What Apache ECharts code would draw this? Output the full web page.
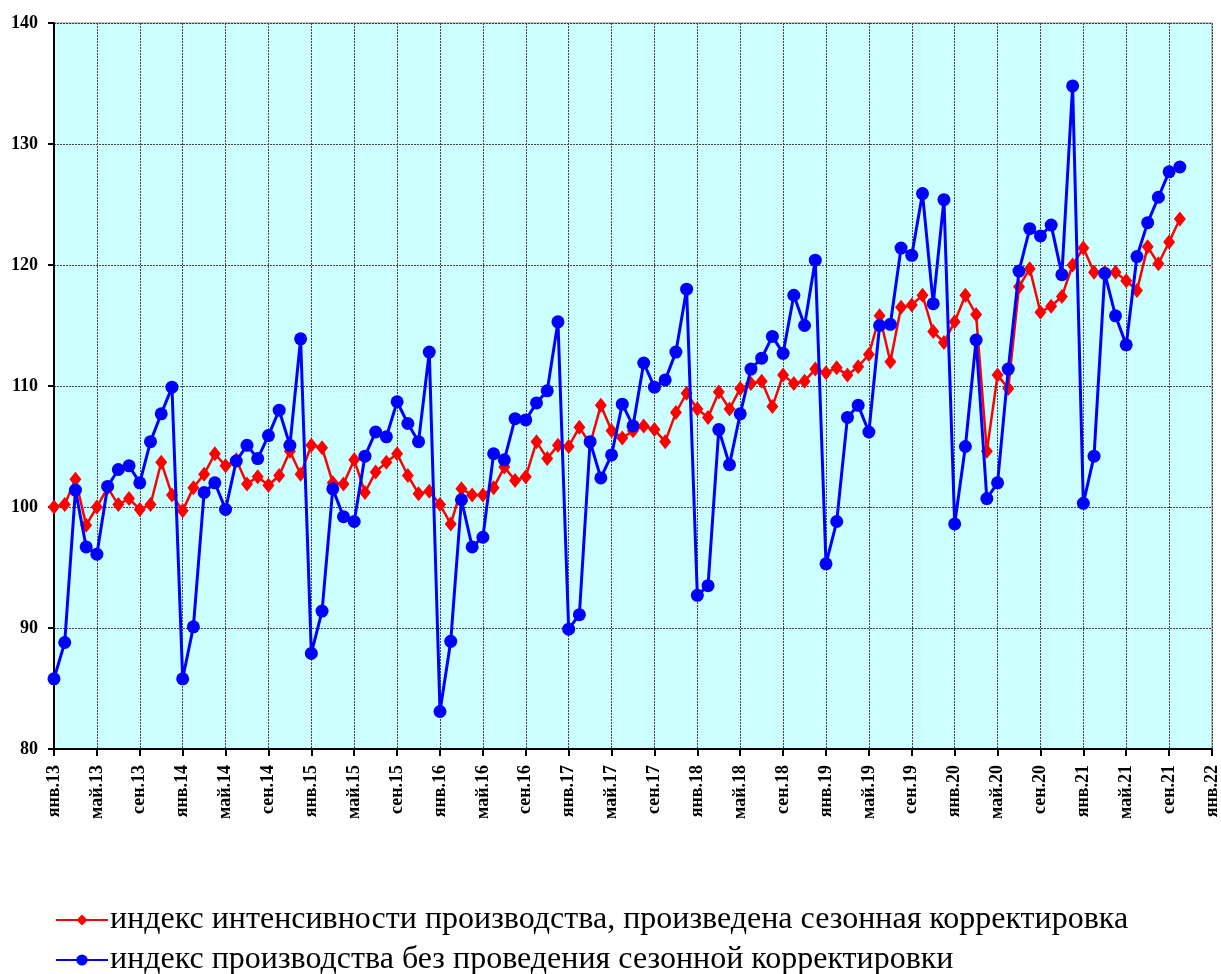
<!DOCTYPE html>
<html>
<head>
<meta charset="utf-8">
<script src="https://cdn.jsdelivr.net/npm/echarts@6/dist/echarts.min.js"></script>
<style>
  html, body { margin: 0; padding: 0; background: #fff; }
  #chart { width: 1221px; height: 974px; }
</style>
</head>
<body>
<div id="chart"></div>
<script>
// month names and years for the x axis (янв.13 ... янв.22)
const monthNames = ['янв', 'фев', 'мар', 'апр', 'май', 'июн', 'июл', 'авг', 'сен', 'окт', 'ноя', 'дек']
const years = ['13', '14', '15', '16', '17', '18', '19', '20', '21', '22']

// seasonally adjusted index (red)
const adjusted = [
  100.0, 100.2, 102.3, 98.5, 100.0, 101.6, 100.2, 100.7, 99.8, 100.2, 103.7, 101.0,
  99.7, 101.6, 102.7, 104.4, 103.4, 103.9, 101.9, 102.5, 101.8, 102.6, 104.6, 102.7,
  105.1, 104.9, 102.0, 101.9, 103.9, 101.2, 102.9, 103.7, 104.4, 102.6, 101.1, 101.3,
  100.2, 98.6, 101.5, 101.0, 101.0, 101.6, 103.3, 102.2, 102.5, 105.4, 104.0, 105.1,
  105.0, 106.6, 105.2, 108.4, 106.3, 105.7, 106.3, 106.7, 106.4, 105.4, 107.8, 109.4,
  108.1, 107.4, 109.5, 108.1, 109.8, 110.2, 110.4, 108.3, 110.9, 110.2, 110.4, 111.4,
  111.1, 111.5, 110.9, 111.6, 112.6, 115.8, 112.0, 116.5, 116.7, 117.5, 114.5, 113.6,
  115.3, 117.5, 115.9, 104.6, 110.9, 109.8, 118.2, 119.7, 116.1, 116.6, 117.4, 120.0,
  121.4, 119.4, 119.4, 119.4, 118.7, 117.9, 121.5, 120.1, 121.9, 123.8
]

// index without seasonal adjustment (blue)
const raw = [
  85.8, 88.8, 101.4, 96.7, 96.1, 101.7, 103.1, 103.4, 102.0, 105.4, 107.7, 109.9,
  85.8, 90.1, 101.2, 102.0, 99.8, 103.8, 105.1, 104.0, 105.9, 108.0, 105.1, 113.9,
  87.9, 91.4, 101.5, 99.2, 98.8, 104.2, 106.2, 105.8, 108.7, 106.9, 105.4, 112.8,
  83.1, 88.9, 100.6, 96.7, 97.5, 104.4, 103.9, 107.3, 107.2, 108.6, 109.6, 115.3,
  89.9, 91.1, 105.4, 102.4, 104.3, 108.5, 106.7, 111.9, 109.9, 110.5, 112.8, 118.0,
  92.7, 93.5, 106.4, 103.5, 107.7, 111.4, 112.3, 114.1, 112.7, 117.5, 115.0, 120.4,
  95.3, 98.8, 107.4, 108.4, 106.2, 115.0, 115.1, 121.4, 120.8, 125.9, 116.8, 125.4,
  98.6, 105.0, 113.8, 100.7, 102.0, 111.4, 119.5, 123.0, 122.4, 123.3, 119.2, 134.8,
  100.3, 104.2, 119.3, 115.8, 113.4, 120.7, 123.5, 125.6, 127.7, 128.1
]

const seriesNames = [
  'индекс интенсивности производства, произведена сезонная корректировка',
  'индекс производства без проведения сезонной корректировки'
]

const categories = []
years.forEach((y, i) => {
  const n = i === years.length - 1 ? 1 : 12
  for (let m = 0; m < n; m++) categories.push(monthNames[m] + '.' + y)
})

const font = '"Liberation Serif", "Times New Roman", serif'
const gridLine = { show: true, lineStyle: { color: '#444', width: 1, type: [2, 1] } }

// one legend block per row, as in the original
const legendRow = (name, top) => ({
  orient: 'horizontal',
  left: 50, top: top,
  itemWidth: 52, itemHeight: 14, itemGap: 0,
  textStyle: { fontFamily: font, fontSize: 32, color: '#000', padding: [0, 0, 0, -3] },
  data: [name]
})

const chart = echarts.init(document.getElementById('chart'), null, { renderer: 'canvas' })
chart.setOption({
  animation: false,
  textStyle: { fontFamily: font },
  grid: {
    left: 54, right: 8, top: 23, bottom: 225,
    show: true, backgroundColor: '#ccffff', borderColor: '#888', borderWidth: 1
  },
  legend: [legendRow(seriesNames[0], 899), legendRow(seriesNames[1], 939)],
  xAxis: {
    type: 'category',
    data: categories,
    boundaryGap: false,
    axisLine: { lineStyle: { color: '#000', width: 2 } },
    axisTick: { interval: 3, length: 7, lineStyle: { color: '#000', width: 2 } },
    axisLabel: {
      interval: 3, rotate: 90, margin: 16,
      fontFamily: font, fontSize: 18, fontWeight: 'bold', color: '#000'
    },
    splitLine: Object.assign({ interval: 3 }, gridLine)
  },
  yAxis: {
    type: 'value',
    min: 80, max: 140, interval: 10,
    axisLine: { show: true, lineStyle: { color: '#000', width: 2 } },
    axisTick: { show: true, length: 6, lineStyle: { color: '#000', width: 2 } },
    axisLabel: { margin: 16, fontFamily: font, fontSize: 18, fontWeight: 'bold', color: '#000' },
    splitLine: gridLine
  },
  series: [
    {
      name: seriesNames[0],
      type: 'line',
      data: adjusted,
      symbol: 'diamond',
      symbolSize: [12, 15],
      showAllSymbol: true,
      itemStyle: { color: '#ff0000' },
      lineStyle: { color: '#ff0000', width: 2.5 },
      z: 2
    },
    {
      name: seriesNames[1],
      type: 'line',
      data: raw,
      symbol: 'circle',
      symbolSize: 13,
      showAllSymbol: true,
      itemStyle: { color: '#0000ff' },
      lineStyle: { color: '#0000ff', width: 3 },
      z: 3
    }
  ]
})
</script>
</body>
</html>
